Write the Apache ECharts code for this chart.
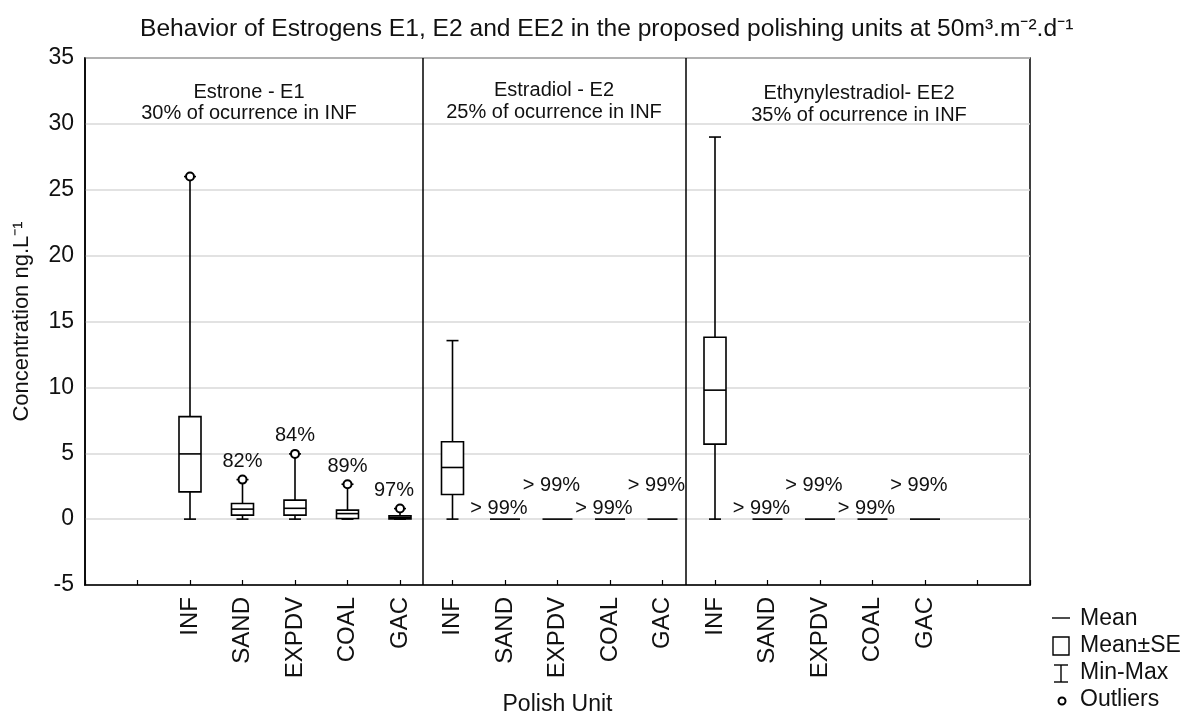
<!DOCTYPE html>
<html>
<head>
<meta charset="utf-8">
<script src="https://cdn.jsdelivr.net/npm/echarts@6/dist/echarts.min.js"></script>
<style>
  html, body { margin: 0; padding: 0; background: #fff; }
  #chart { width: 1190px; height: 715px; }
</style>
</head>
<body>
<div id="chart"></div>
<script>
// Polishing units on the x axis, repeated for each estrogen panel
const units = ['INF', 'SAND', 'EXPDV', 'COAL', 'GAC'];
const compounds = ['Estrone - E1', 'Estradiol - E2', 'Ethynylestradiol- EE2'];
const occurrence = ['30% of ocurrence in INF', '25% of ocurrence in INF', '35% of ocurrence in INF'];

// Estrone - E1 (ng/L)
const e1Min = [0, 0, 0, 0, 0];
const e1SeLow = [2.07, 0.30, 0.30, 0.05, 0.02];
const e1Mean = [4.95, 0.76, 0.82, 0.42, 0.12];
const e1SeHigh = [7.78, 1.19, 1.44, 0.68, 0.25];
const e1Max = [26.0, 3.0, 4.95, 2.65, 0.8];
const e1Outliers = [26.0, 3.0, 4.95, 2.65, 0.8];
const e1Removal = ['', '82%', '84%', '89%', '97%'];

// Estradiol - E2 (ng/L)
const e2Min = [0, 0, 0, 0, 0];
const e2SeLow = [1.87, 0, 0, 0, 0];
const e2Mean = [3.92, 0, 0, 0, 0];
const e2SeHigh = [5.87, 0, 0, 0, 0];
const e2Max = [13.55, 0, 0, 0, 0];
const e2Outliers = [null, null, null, null, null];
const e2Removal = ['', '> 99%', '> 99%', '> 99%', '> 99%'];

// Ethynylestradiol - EE2 (ng/L)
const ee2Min = [0, 0, 0, 0, 0];
const ee2SeLow = [5.69, 0, 0, 0, 0];
const ee2Mean = [9.79, 0, 0, 0, 0];
const ee2SeHigh = [13.8, 0, 0, 0, 0];
const ee2Max = [29.0, 0, 0, 0, 0];
const ee2Outliers = [null, null, null, null, null];
const ee2Removal = ['', '> 99%', '> 99%', '> 99%', '> 99%'];

// Y axis ticks
const yTicks = [-5, 0, 5, 10, 15, 20, 25, 30, 35];

const FONT = "'Liberation Sans', Arial, sans-serif";
const INK = '#111';

const groups = [
  { min: e1Min, lo: e1SeLow, mean: e1Mean, hi: e1SeHigh, max: e1Max, out: e1Outliers, rem: e1Removal },
  { min: e2Min, lo: e2SeLow, mean: e2Mean, hi: e2SeHigh, max: e2Max, out: e2Outliers, rem: e2Removal },
  { min: ee2Min, lo: ee2SeLow, mean: ee2Mean, hi: ee2SeHigh, max: ee2Max, out: ee2Outliers, rem: ee2Removal }
];

// x slot of unit j in panel g: panels of five units, starting at 2
const slot = (g, j) => 2 + 5 * g + j;
const panelBreaks = [6.43, 11.45];

const boxData = [];
const outlierData = [];
const removalData = [];
groups.forEach((grp, g) => {
  units.forEach((u, j) => {
    const x = slot(g, j);
    boxData.push([x, grp.min[j], grp.lo[j], grp.mean[j], grp.hi[j], grp.max[j]]);
    if (grp.out[j] != null) outlierData.push([x, grp.out[j]]);
    if (grp.rem[j]) {
      const flat = grp.max[j] === grp.min[j];
      // alternate heights for the labels that sit on flat (all-zero) units
      const dy = flat ? (j % 2 === 1 ? -11 : -34) : -18;
      const dx = flat ? -6 : (j === 4 ? -6 : 0);
      removalData.push({ value: [x, grp.max[j]], text: grp.rem[j], dx, dy });
    }
  });
});

const BOX_W = 22, CAP_W = 12, FLAT_W = 30, LW = 1.6;

function renderBox(params, api) {
  const x = api.value(0);
  const vMin = api.value(1), vMax = api.value(5);
  const cx = api.coord([x, vMin])[0];
  const yMin = api.coord([x, vMin])[1];
  const yLo = api.coord([x, api.value(2)])[1];
  const yMean = api.coord([x, api.value(3)])[1];
  const yHi = api.coord([x, api.value(4)])[1];
  const yMax = api.coord([x, vMax])[1];
  const st = { stroke: '#000', lineWidth: LW, fill: null };
  if (vMax === vMin) {
    return { type: 'line', shape: { x1: cx - FLAT_W / 2, y1: yMin, x2: cx + FLAT_W / 2, y2: yMin }, style: st };
  }
  return {
    type: 'group',
    children: [
      { type: 'line', shape: { x1: cx, y1: yMax, x2: cx, y2: yHi }, style: st },
      { type: 'line', shape: { x1: cx, y1: yLo, x2: cx, y2: yMin }, style: st },
      { type: 'line', shape: { x1: cx - CAP_W / 2, y1: yMax, x2: cx + CAP_W / 2, y2: yMax }, style: st },
      { type: 'line', shape: { x1: cx - CAP_W / 2, y1: yMin, x2: cx + CAP_W / 2, y2: yMin }, style: st },
      { type: 'rect', shape: { x: cx - BOX_W / 2, y: yHi, width: BOX_W, height: yLo - yHi },
        style: { stroke: '#000', lineWidth: LW, fill: '#fff' } },
      { type: 'line', shape: { x1: cx - BOX_W / 2, y1: yMean, x2: cx + BOX_W / 2, y2: yMean }, style: st }
    ]
  };
}

const chart = echarts.init(document.getElementById('chart'), null, { renderer: 'canvas' });

// Panel headings, centred over each panel
const headings = [
  { x: 249, y1: 92, y2: 113 },
  { x: 554, y1: 90, y2: 112 },
  { x: 859, y1: 93, y2: 115 }
];
const headingGraphics = [];
compounds.forEach((c, i) => {
  headingGraphics.push({ type: 'text', x: headings[i].x, y: headings[i].y1,
    style: { text: c, font: `20px ${FONT}`, fill: INK, align: 'center', verticalAlign: 'middle' } });
  headingGraphics.push({ type: 'text', x: headings[i].x, y: headings[i].y2,
    style: { text: occurrence[i], font: `20px ${FONT}`, fill: INK, align: 'center', verticalAlign: 'middle' } });
});

// Legend for the box symbols
const legendText = (t, y) => ({ type: 'text', x: 1080, y,
  style: { text: t, font: `23px ${FONT}`, fill: INK, align: 'left', verticalAlign: 'middle' } });
const legendGraphics = [
  { type: 'line', shape: { x1: 1052, y1: 618, x2: 1070, y2: 618 }, style: { stroke: '#000', lineWidth: 1.4 } },
  legendText('Mean', 619),
  { type: 'rect', shape: { x: 1053, y: 637, width: 16, height: 18 }, style: { stroke: '#000', lineWidth: 1.4, fill: '#fff' } },
  legendText('Mean±SE', 646),
  { type: 'line', shape: { x1: 1061, y1: 665, x2: 1061, y2: 682 }, style: { stroke: '#000', lineWidth: 1.4 } },
  { type: 'line', shape: { x1: 1054, y1: 665, x2: 1068, y2: 665 }, style: { stroke: '#000', lineWidth: 1.4 } },
  { type: 'line', shape: { x1: 1054, y1: 682, x2: 1068, y2: 682 }, style: { stroke: '#000', lineWidth: 1.4 } },
  legendText('Min-Max', 673),
  { type: 'circle', shape: { cx: 1062, cy: 701, r: 3.5 }, style: { stroke: '#000', lineWidth: 2, fill: '#fff' } },
  legendText('Outliers', 700)
];

chart.setOption({
  animation: false,
  backgroundColor: '#fff',
  title: {
    text: 'Behavior of Estrogens E1, E2 and EE2 in the proposed polishing units at 50m³.m⁻².d⁻¹',
    left: 135,
    top: 12,
    textStyle: { fontFamily: FONT, fontSize: 24.6, fontWeight: 'normal', color: INK }
  },
  grid: {
    left: 85, right: 160, top: 58, bottom: 130,
    outerBoundsMode: 'none',
    containLabel: false,
    show: true, borderColor: '#000', borderWidth: 1.5, backgroundColor: 'transparent'
  },
  xAxis: {
    type: 'value', min: 0, max: 18, interval: 1,
    name: 'Polish Unit', nameLocation: 'middle', nameGap: 108,
    nameTextStyle: { fontFamily: FONT, fontSize: 23, color: INK },
    axisLine: { show: true, onZero: false, lineStyle: { color: '#000', width: 1.5 } },
    axisTick: { show: true, inside: true, length: 5, lineStyle: { color: '#000', width: 1.2 } },
    splitLine: { show: false },
    axisLabel: {
      rotate: 90, margin: 12, fontFamily: FONT, fontSize: 24, color: INK,
      formatter: v => (v >= 2 && v <= 16 ? units[(v - 2) % 5] : '')
    }
  },
  yAxis: {
    type: 'value', min: yTicks[0], max: yTicks[yTicks.length - 1], interval: 5,
    name: 'Concentration ng.L⁻¹', nameLocation: 'middle', nameGap: 52, nameRotate: 90,
    nameTextStyle: { fontFamily: FONT, fontSize: 22, color: INK },
    axisLine: { show: true, onZero: false, lineStyle: { color: '#000', width: 1.5 } },
    axisTick: { show: false },
    splitLine: { show: true, lineStyle: { color: '#d9d9d9', width: 1.5 } },
    axisLabel: { margin: 11, fontFamily: FONT, fontSize: 23, color: INK }
  },
  graphic: headingGraphics.concat(legendGraphics),
  series: [
    {
      type: 'custom',
      name: 'Mean±SE',
      renderItem: renderBox,
      encode: { x: 0, y: [1, 2, 3, 4, 5] },
      data: boxData,
      clip: false,
      z: 3,
      markLine: {
        silent: true, symbol: ['none', 'none'], label: { show: false },
        lineStyle: { color: '#000', width: 1.5, type: 'solid' },
        data: panelBreaks.map(b => ({ xAxis: b }))
      }
    },
    {
      type: 'scatter',
      name: 'Outliers',
      data: outlierData,
      symbol: 'circle',
      symbolSize: 8,
      itemStyle: { color: '#fff', borderColor: '#000', borderWidth: 2, opacity: 1 },
      z: 5
    },
    {
      type: 'scatter',
      name: 'Removal',
      data: removalData.map(d => ({
        value: d.value,
        label: {
          show: true, formatter: d.text, offset: [d.dx, d.dy], position: 'inside',
          fontFamily: FONT, fontSize: 20, color: INK, textBorderWidth: 0, opacity: 1
        }
      })),
      symbolSize: 1,
      itemStyle: { color: 'rgba(0,0,0,0)', opacity: 1 },
      z: 6
    }
  ]
});
</script>
</body>
</html>
